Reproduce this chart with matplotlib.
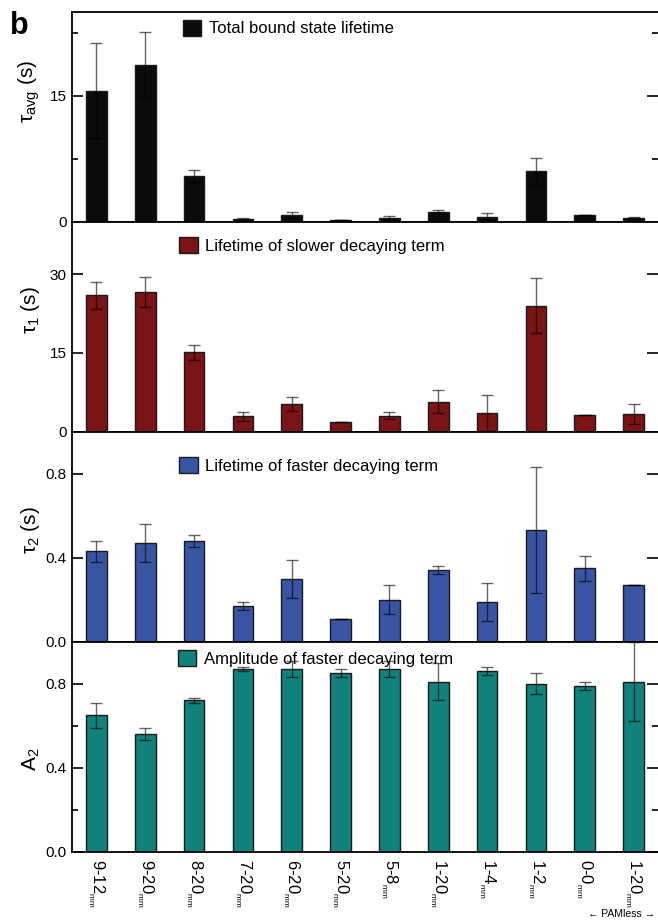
import matplotlib
matplotlib.use('Agg')
import matplotlib.pyplot as plt
import numpy as np

plt.rcParams['font.family'] = ['Liberation Sans', 'DejaVu Sans']

# construct names (x axis), the last one is the PAMless control
constructs = ['9-12', '9-20', '8-20', '7-20', '6-20', '5-20', '5-8', '1-20', '1-4', '1-2', '0-0', '1-20']

# total bound state lifetime
tau_avg = [15.6, 18.7, 5.4, 0.32, 0.8, 0.2, 0.48, 1.2, 0.5, 6.0, 0.8, 0.48]
tau_avg_err = [5.7, 3.9, 0.7, 0.08, 0.4, 0.0, 0.2, 0.2, 0.5, 1.6, 0.0, 0.08]

# lifetime of slower decaying term
tau1 = [26.0, 26.6, 15.1, 2.9, 5.2, 1.8, 3.05, 5.7, 3.6, 24.0, 3.2, 3.4]
tau1_err = [2.6, 2.9, 1.4, 0.8, 1.35, 0.0, 0.7, 2.2, 3.4, 5.2, 0.0, 1.9]

# lifetime of faster decaying term
tau2 = [0.43, 0.47, 0.48, 0.17, 0.30, 0.11, 0.20, 0.34, 0.19, 0.53, 0.35, 0.27]
tau2_err = [0.05, 0.09, 0.03, 0.02, 0.09, 0.0, 0.07, 0.02, 0.09, 0.30, 0.06, 0.0]

# amplitude of faster decaying term
amp2 = [0.65, 0.56, 0.72, 0.87, 0.87, 0.85, 0.87, 0.81, 0.86, 0.80, 0.79, 0.81]
amp2_err = [0.06, 0.03, 0.01, 0.01, 0.04, 0.02, 0.04, 0.09, 0.02, 0.05, 0.02, 0.19]

panels = [
    dict(y=tau_avg, err=tau_avg_err, color='#0b0b0b', label='Total bound state lifetime',
         ylabel=r'τ$_{\mathregular{avg}}$ (s)', ylim=25, major=[0, 15], minor=[7.5, 22.5],
         fmt='%d', lab_y=0.62, leg=(0.189, 0.962)),
    dict(y=tau1, err=tau1_err, color='#7b1416', label='Lifetime of slower decaying term',
         ylabel=r'τ$_{\mathregular{1}}$ (s)', ylim=40, major=[0, 15, 30], minor=[],
         fmt='%d', lab_y=0.58, leg=(0.183, 0.925)),
    dict(y=tau2, err=tau2_err, color='#3a54a4', label='Lifetime of faster decaying term',
         ylabel=r'τ$_{\mathregular{2}}$ (s)', ylim=1.0, major=[0, 0.4, 0.8], minor=[],
         fmt='%.1f', lab_y=0.53, leg=(0.183, 0.878)),
    dict(y=amp2, err=amp2_err, color='#10817b', label='Amplitude of faster decaying term',
         ylabel=r'A$_{\mathregular{2}}$', ylim=1.0, major=[0, 0.4, 0.8], minor=[0.2, 0.6],
         fmt='%.1f', lab_y=0.44, leg=(0.181, 0.960)),
]

fig = plt.figure(figsize=(6.58, 9.22), dpi=100)
x = np.arange(len(constructs))
h = 210 / 922
bottoms = [0.0763 + k * h for k in range(4)][::-1]

for i, p in enumerate(panels):
    ax = fig.add_axes([72 / 658, bottoms[i], 1 - 72 / 658, h])
    ax.bar(x, p['y'], width=0.42, color=p['color'], edgecolor='#1a1a1a', linewidth=1.0,
           label=p['label'], zorder=2)
    ax.errorbar(x, p['y'], yerr=p['err'], fmt='none', ecolor='black', alpha=0.6,
                elinewidth=1.0, capsize=4.5, capthick=1.0, zorder=3)
    ax.set_xlim(-0.5, 11.5)
    ax.set_ylim(0, p['ylim'])
    ax.set_yticks(p['major'])
    ax.set_yticks(p['minor'], minor=True)
    ax.set_yticklabels([p['fmt'] % v for v in p['major']])
    ax.tick_params(axis='y', which='major', direction='in', length=8, width=1.2,
                   labelsize=11, pad=4, right=True)
    ax.tick_params(axis='y', which='minor', direction='in', length=4.5, width=1.2, right=True)
    ax.tick_params(axis='x', length=0)
    ax.spines['right'].set_visible(False)
    for s in ['left', 'top', 'bottom']:
        ax.spines[s].set_linewidth(1.3)
    ax.set_ylabel(p['ylabel'], fontsize=15)
    ax.yaxis.set_label_coords(-0.052, p['lab_y'])
    ax.legend(loc='upper left', bbox_to_anchor=p['leg'], frameon=False, fontsize=12,
              handlelength=1.1, handleheight=1.1, handletextpad=0.45,
              borderpad=0, borderaxespad=0)
    ax.set_xticks(x)
    if i < 3:
        ax.set_xticklabels([])
    else:
        ax.set_xticklabels([c + r'$\mathregular{_{_{mm}}}$' for c in constructs],
                           rotation=270, fontsize=12, va='top', ha='center')
        ax.tick_params(axis='x', pad=5)

fig.text(0.015, 0.988, 'b', fontsize=22, fontweight='bold', va='top', ha='left')
fig.text(0.944, 0.003, '← PAMless →', fontsize=7.5, ha='center', va='bottom')

fig.savefig('out.png', dpi=100)
